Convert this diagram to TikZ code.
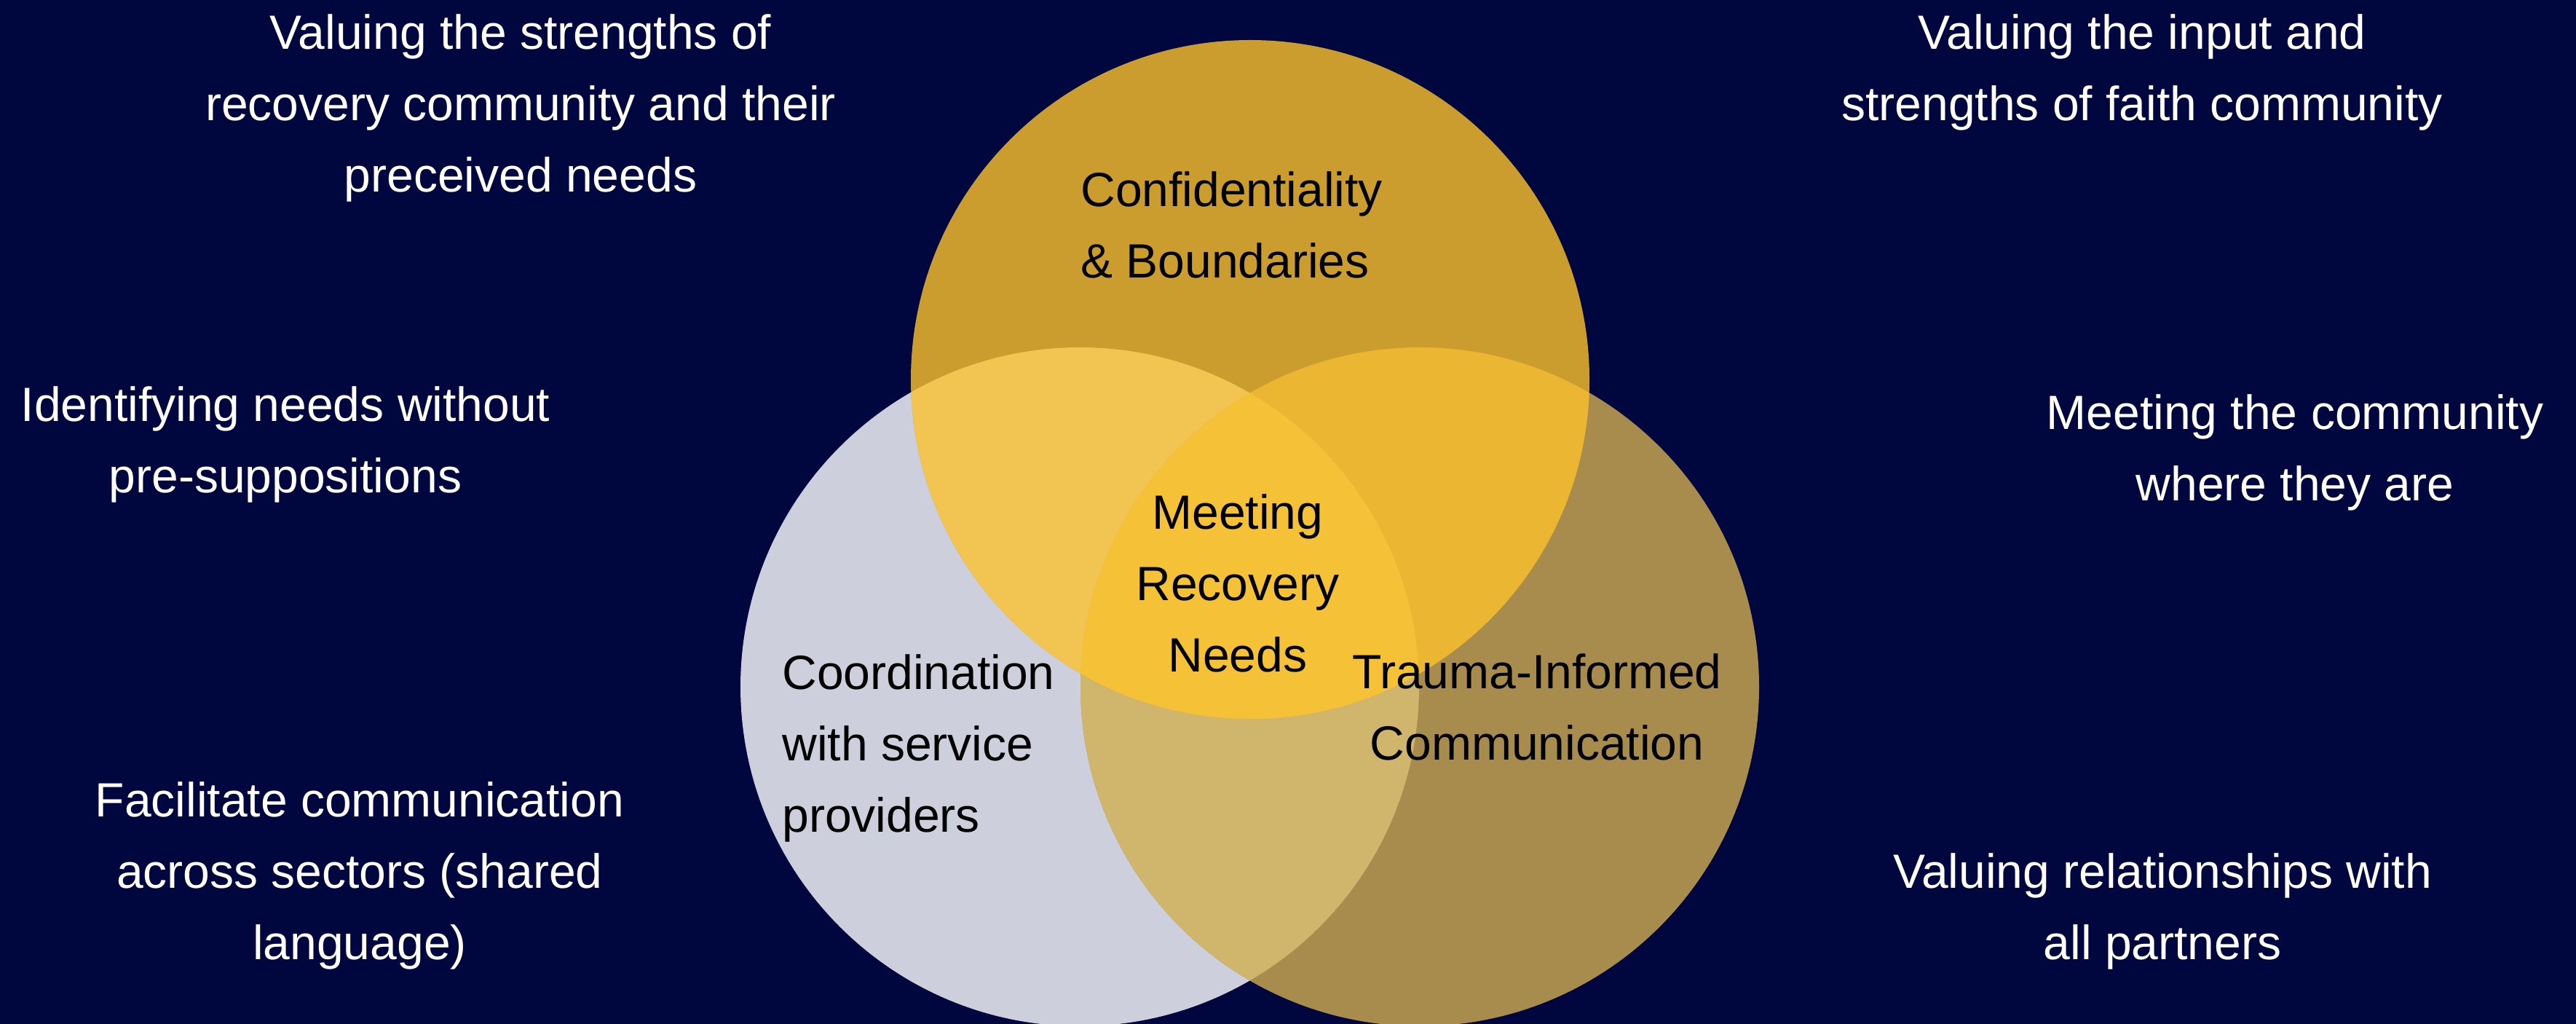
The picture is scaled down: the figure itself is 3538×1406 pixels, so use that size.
\documentclass[tikz,border=0pt]{standalone}
\usepackage{fontspec}
\setmainfont{Liberation Sans}
\definecolor{bgnavy}{RGB}{0,6,62}
\definecolor{cT}{RGB}{202,157,46}
\definecolor{cL}{RGB}{206,207,220}
\definecolor{cR}{RGB}{167,140,77}
\definecolor{cTL}{RGB}{242,196,82}
\definecolor{cTR}{RGB}{235,183,50}
\definecolor{cLR}{RGB}{208,181,108}
\definecolor{cTLR}{RGB}{245,193,54}
\tikzset{
  outer/.style={font=\fontsize{33}{49}\selectfont, text=white, inner sep=0pt, align=center},
  inner/.style={font=\fontsize{33}{49}\selectfont, text=black, inner sep=0pt},
}
\begin{document}
\begin{tikzpicture}[x=0.5pt,y=-0.5pt]
\fill[bgnavy] (0,0) rectangle (3538,1406);
\useasboundingbox (0,0) rectangle (3538,1406);
\coordinate (ct) at (1717,521);
\coordinate (cl) at (1483,943);
\coordinate (cr) at (1950,943);
\def\rr{466}
% single circles
\fill[cL] (cl) circle[radius=\rr];
\fill[cR] (cr) circle[radius=\rr];
\fill[cT] (ct) circle[radius=\rr];
% left-right overlap
\begin{scope}
  \clip (cl) circle[radius=\rr];
  \fill[cLR] (cr) circle[radius=\rr];
\end{scope}
% top overlaps
\begin{scope}
  \clip (ct) circle[radius=\rr];
  \fill[cTL] (cl) circle[radius=\rr];
  \fill[cTR] (cr) circle[radius=\rr];
  \begin{scope}
    \clip (cl) circle[radius=\rr];
    \fill[cTLR] (cr) circle[radius=\rr];
  \end{scope}
\end{scope}
% circle labels
\node[inner, align=left, anchor=west] (conf) at (1484,309) {Confidentiality\\\& Boundaries};
\node[inner, align=center] (meet) at (1700,801) {Meeting\\Recovery\\Needs};
\node[inner, align=left, anchor=west] (coord) at (1074,1027) {Coordination\\with service\\providers};
\node[inner, align=center] (trauma) at (2111,971) {Trauma-Informed\\Communication};
% outer labels
\node[outer] (tl) at (715,148) {Valuing the strengths of\\recovery community and their\\preceived needs};
\node[outer] (tr) at (2942,99) {Valuing the input and\\strengths of faith community};
\node[outer] (ml) at (392,610) {Identifying needs without\\pre-suppositions};
\node[outer] (mr) at (3152,621) {Meeting the community\\where they are};
\node[outer] (bl) at (494,1202) {Facilitate communication\\across sectors (shared\\language)};
\node[outer] (br) at (2970,1251) {Valuing relationships with\\all partners};
\end{tikzpicture}
\end{document}
